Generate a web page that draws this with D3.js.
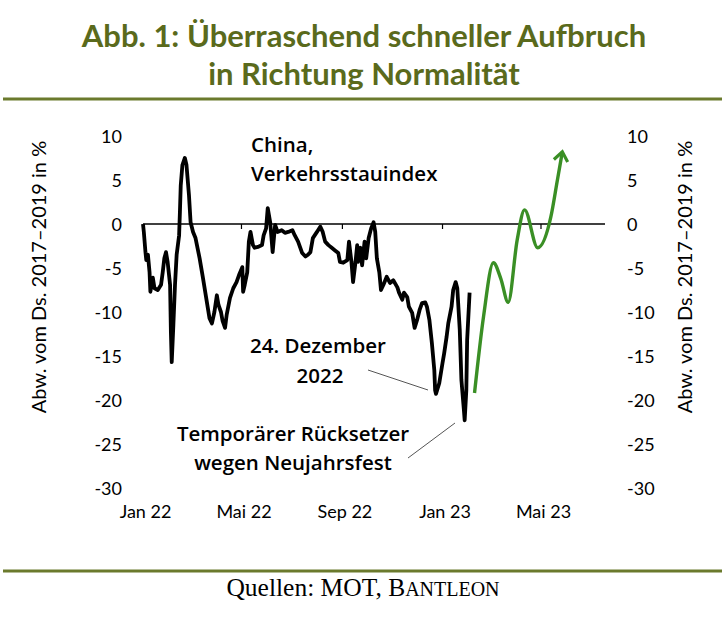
<!DOCTYPE html>
<html><head><meta charset="utf-8">
<script src="https://cdn.jsdelivr.net/npm/d3@7"></script>
<style>
html,body{margin:0;padding:0;background:#fff;}
svg{display:block;}
</style></head>
<body>
<script>
// ---- data ----
const indexDates = ["2022-01-01","2022-01-02","2022-01-04","2022-01-05","2022-01-07","2022-01-09","2022-01-10","2022-01-13","2022-01-15","2022-01-19","2022-01-23","2022-01-25","2022-01-27","2022-01-29","2022-01-31","2022-02-03","2022-02-04","2022-02-05","2022-02-07","2022-02-09","2022-02-11","2022-02-14","2022-02-15","2022-02-16","2022-02-18","2022-02-21","2022-02-23","2022-02-26","2022-02-28","2022-03-03","2022-03-06","2022-03-11","2022-03-15","2022-03-19","2022-03-23","2022-03-26","2022-03-29","2022-04-01","2022-04-03","2022-04-06","2022-04-08","2022-04-11","2022-04-13","2022-04-17","2022-04-21","2022-04-25","2022-04-28","2022-05-02","2022-05-03","2022-05-05","2022-05-08","2022-05-10","2022-05-12","2022-05-15","2022-05-17","2022-05-21","2022-05-26","2022-05-28","2022-05-31","2022-06-02","2022-06-05","2022-06-08","2022-06-11","2022-06-14","2022-06-19","2022-06-23","2022-06-27","2022-07-02","2022-07-05","2022-07-09","2022-07-14","2022-07-18","2022-07-21","2022-07-24","2022-07-27","2022-08-01","2022-08-05","2022-08-08","2022-08-11","2022-08-15","2022-08-19","2022-08-23","2022-08-27","2022-08-29","2022-09-02","2022-09-07","2022-09-09","2022-09-12","2022-09-14","2022-09-17","2022-09-19","2022-09-20","2022-09-23","2022-09-25","2022-09-28","2022-09-30","2022-10-03","2022-10-06","2022-10-09","2022-10-11","2022-10-13","2022-10-16","2022-10-18","2022-10-21","2022-10-25","2022-10-29","2022-11-02","2022-11-07","2022-11-09","2022-11-13","2022-11-15","2022-11-19","2022-11-21","2022-11-25","2022-11-28","2022-12-01","2022-12-04","2022-12-07","2022-12-11","2022-12-13","2022-12-16","2022-12-19","2022-12-22","2022-12-23","2022-12-24","2022-12-28","2023-01-01","2023-01-03","2023-01-06","2023-01-08","2023-01-12","2023-01-14","2023-01-17","2023-01-19","2023-01-22","2023-01-24","2023-01-27","2023-01-28","2023-01-30","2023-01-31","2023-02-03"];
const indexValues = [0,-0.9,-3.2,-4.1,-3.5,-5.5,-7.7,-6.1,-7.3,-7.5,-6.9,-5.5,-3.9,-3.2,-4.3,-6.9,-12.3,-15.7,-11.5,-6.9,-3.5,-1.3,1.4,4.4,6.7,7.5,6.7,3.3,0.2,-0.9,-1.6,-3.9,-6.1,-8.4,-10.7,-11.3,-10.0,-8.1,-9.2,-10.0,-11.0,-11.8,-10.3,-8.4,-7.3,-6.6,-5.8,-4.9,-7.7,-6.9,-5.5,-2.0,-0.9,-2.4,-2.7,-2.6,-2.4,-1.3,-0.5,1.8,0.2,-3.2,-0.1,-0.9,-0.7,-1.0,-0.9,-0.7,-1.3,-2.0,-3.3,-3.7,-3.5,-3.2,-1.6,-0.9,-0.3,-0.9,-2.0,-2.4,-2.7,-3.0,-3.3,-4.3,-4.4,-4.1,-2.0,-4.3,-6.6,-4.3,-2.4,-4.3,-2.7,-4.7,-2.0,-3.9,-1.6,-0.5,0.2,-0.9,-3.9,-5.5,-7.5,-6.9,-6.0,-6.7,-6.4,-7.2,-7.8,-8.6,-7.8,-8.3,-9.4,-10.1,-11.8,-10.9,-9.8,-9.0,-8.9,-9.4,-10.9,-13.5,-16.6,-18.9,-19.3,-18.1,-15.8,-14.7,-12.8,-11.3,-9.4,-7.5,-6.6,-7.3,-12.0,-17.7,-21.1,-22.3,-18.9,-13.2,-7.8];

const outlookDates = ["2023-02-09","2023-02-20","2023-03-04","2023-03-13","2023-03-22","2023-04-02","2023-04-11","2023-04-27","2023-05-13","2023-05-21","2023-05-27"];
const outlookValues = [-19.2,-10.5,-4.4,-6.2,-8.9,-1.8,1.6,-2.7,0.8,5.0,8.2];

const yTicks = [10,5,0,-5,-10,-15,-20,-25,-30];
const xTickDates = ["2022-01-01","2022-05-01","2022-09-01","2023-01-01","2023-05-01"];
const xTickLabels = ["Jan 22","Mai 22","Sep 22","Jan 23","Mai 23"];

const titleLines = ["Abb. 1: Überraschend schneller Aufbruch","in Richtung Normalität"];
const axisTitle = "Abw. vom Ds. 2017–2019 in %";

// ---- setup ----
const W = 726, H = 618;
const parse = d3.timeParse("%Y-%m-%d");
const svg = d3.select("body").append("svg").attr("width", W).attr("height", H);

const TITLE_COLOR = "#5a6a1c";
const RULE_COLOR = "#6b7a2d";
const GREEN = "#3a8f25";
const LABEL_FONT = "Lato, 'Open Sans', sans-serif";
const ANN_FONT = "'Open Sans', Lato, sans-serif";

const x = d3.scaleTime()
  .domain([parse("2022-01-01"), parse("2023-07-18")])
  .range([143, 605]);
const y = d3.scaleLinear().domain([-30, 10]).range([488, 136]);

// title
svg.append("g").selectAll("text").data(titleLines).join("text")
  .attr("x", 364).attr("y", (d, i) => 47 + i * 38)
  .attr("text-anchor", "middle")
  .attr("font-family", LABEL_FONT).attr("font-weight", 700)
  .attr("font-size", 31).attr("fill", TITLE_COLOR)
  .text(d => d);

// rules
svg.append("line").attr("x1", 3).attr("x2", 722).attr("y1", 99).attr("y2", 99)
  .attr("stroke", RULE_COLOR).attr("stroke-width", 3);
svg.append("line").attr("x1", 3).attr("x2", 722).attr("y1", 571).attr("y2", 571)
  .attr("stroke", RULE_COLOR).attr("stroke-width", 3);

// left / right axis labels
const fmt = d => String(d);
const yAxisL = d3.axisLeft(y).tickValues(yTicks).tickFormat(fmt).tickSize(0).tickPadding(0);
const gL = svg.append("g").attr("transform", "translate(122,0)").call(yAxisL);
gL.select(".domain").remove();
gL.selectAll("text").attr("font-family", LABEL_FONT).attr("font-size", 18).attr("fill", "#000").attr("dy", "0.35em");

const yAxisR = d3.axisRight(y).tickValues(yTicks).tickFormat(fmt).tickSize(0).tickPadding(0);
const gR = svg.append("g").attr("transform", "translate(627,0)").call(yAxisR);
gR.select(".domain").remove();
gR.selectAll("text").attr("font-family", LABEL_FONT).attr("font-size", 18).attr("fill", "#000").attr("dy", "0.35em");

// axis titles
[46, 692].forEach(cx => {
  svg.append("text")
    .attr("transform", `translate(${cx},277) rotate(-90)`)
    .attr("text-anchor", "middle")
    .attr("font-family", LABEL_FONT).attr("font-size", 20).attr("fill", "#000")
    .text(axisTitle);
});

// x axis labels
const xAxis = d3.axisBottom(x).tickValues(xTickDates.map(parse))
  .tickFormat((d, i) => xTickLabels[i]).tickSize(0).tickPadding(0);
const gX = svg.append("g").attr("transform", "translate(2,504)").call(xAxis);
gX.select(".domain").remove();
gX.selectAll("text").attr("font-family", LABEL_FONT).attr("font-size", 18).attr("fill", "#000").attr("dy", "0.75em");

// zero line with ticks
svg.append("line").attr("x1", x.range()[0]).attr("x2", x.range()[1])
  .attr("y1", y(0)).attr("y2", y(0)).attr("stroke", "#000").attr("stroke-width", 1.3);
svg.append("g").selectAll("line").data(xTickDates.slice(1)).join("line")
  .attr("x1", d => x(parse(d))).attr("x2", d => x(parse(d)))
  .attr("y1", y(0)).attr("y2", y(0) + 5)
  .attr("stroke", "#000").attr("stroke-width", 1.2);

// index line
const indexData = indexDates.map((d, i) => ({date: parse(d), value: indexValues[i]}));
const line = d3.line().x(d => x(d.date)).y(d => y(d.value)).curve(d3.curveLinear);
svg.append("path").datum(indexData)
  .attr("d", line).attr("fill", "none").attr("stroke", "#000")
  .attr("stroke-width", 3.8).attr("stroke-linejoin", "round");

// outlook arrow
const defs = svg.append("defs");
defs.append("marker").attr("id", "arr")
  .attr("markerUnits", "userSpaceOnUse")
  .attr("viewBox", "-12 -10 16 20").attr("refX", 0).attr("refY", 0)
  .attr("markerWidth", 16).attr("markerHeight", 20).attr("orient", "auto")
  .append("path").attr("d", "M-9,-7 L0,0 L-9,7")
  .attr("fill", "none").attr("stroke", GREEN).attr("stroke-width", 3.2)
  .attr("stroke-linejoin", "miter");
const outlookData = outlookDates.map((d, i) => ({date: parse(d), value: outlookValues[i]}));
const line2 = d3.line().x(d => x(d.date)).y(d => y(d.value)).curve(d3.curveMonotoneX);
svg.append("path").datum(outlookData)
  .attr("d", line2).attr("fill", "none").attr("stroke", GREEN)
  .attr("stroke-width", 3.4).attr("marker-end", "url(#arr)");

// annotations
const ann = svg.append("g").attr("font-family", ANN_FONT).attr("font-weight", 600)
  .attr("font-size", 20.5).attr("fill", "#000");
ann.append("text").attr("x", 251).attr("y", 152).text("China,");
ann.append("text").attr("x", 251).attr("y", 181).text("Verkehrsstauindex");
ann.append("text").attr("x", 318).attr("y", 353).attr("text-anchor", "middle").text("24. Dezember");
ann.append("text").attr("x", 320).attr("y", 383).attr("text-anchor", "middle").text("2022");
ann.append("text").attr("x", 293).attr("y", 441).attr("text-anchor", "middle").text("Temporärer Rücksetzer");
ann.append("text").attr("x", 293).attr("y", 470).attr("text-anchor", "middle").text("wegen Neujahrsfest");

svg.append("line").attr("x1", 368).attr("y1", 370).attr("x2", 428).attr("y2", 390)
  .attr("stroke", "#555").attr("stroke-width", 1);
svg.append("line").attr("x1", 408).attr("y1", 458).attr("x2", 455).attr("y2", 423)
  .attr("stroke", "#555").attr("stroke-width", 1);

// source
const src = svg.append("text").attr("x", 363).attr("y", 596).attr("text-anchor", "middle")
  .attr("font-family", "'Liberation Serif', 'DejaVu Serif', serif").attr("font-size", 25.5).attr("fill", "#000");
src.append("tspan").text("Quellen: MOT, B");
src.append("tspan").attr("font-size", 20).text("ANTLEON");
</script>
</body></html>
